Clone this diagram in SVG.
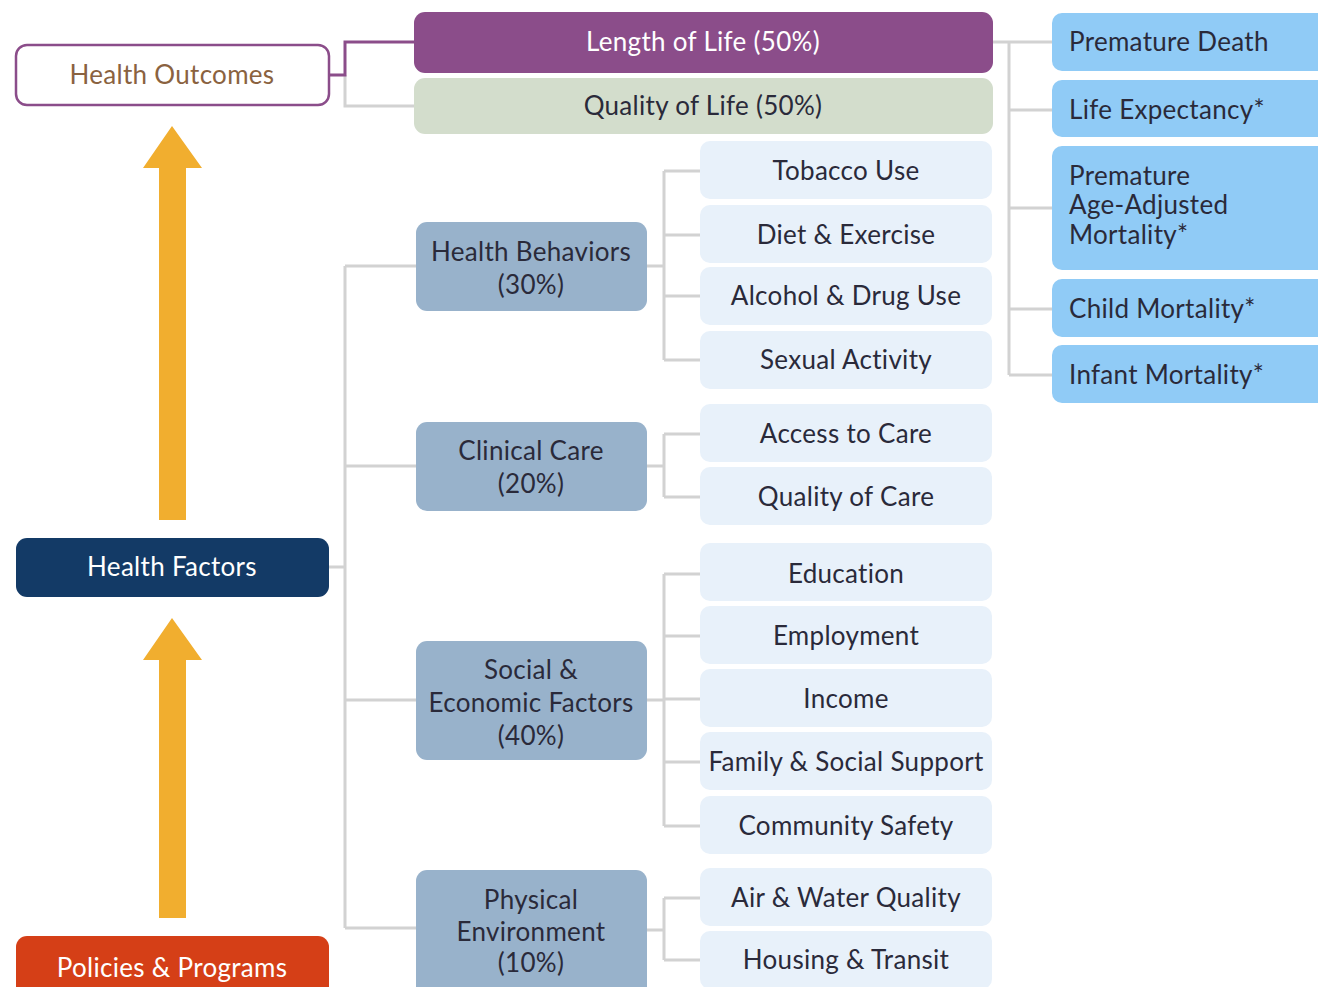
<svg xmlns="http://www.w3.org/2000/svg" width="1318" height="987" viewBox="0 0 1318 987">
  <style>
    text { font-family: Lato, "Open Sans", "Liberation Sans", sans-serif; font-size: 26px; letter-spacing: 0.3px; text-anchor: middle; dominant-baseline: central; fill: #2a2a3a; }
    .conn { fill: none; stroke: #d2d2d2; stroke-width: 3; }
    .outcome-link { fill: none; stroke: #8b4d8a; stroke-width: 3; }
    .leaf rect { fill: #e8f1fa; }
    .mid rect { fill: #98b2cb; }
    .measure rect { fill: #90cbf6; }
    .measure text { text-anchor: start; }
    .white { fill: #ffffff; }
    .arrow { fill: #f1ae2f; }
  </style>

  <!-- connectors -->
  <g id="connectors">
    <path class="conn" d="M345 75 V106 H414"/>
    <path class="outcome-link" d="M329 75 H345 V42 H414"/>
    <path class="conn" d="M993 42 H1009 V375 M1009 42 H1052 M1009 110 H1052 M1009 208 H1052 M1009 309 H1052 M1009 375 H1052"/>
    <path class="conn" d="M329 567 H345 M345 266 V928 M345 266 H416 M345 466 H416 M345 700 H416 M345 928 H416"/>
    <path class="conn" d="M647 266 H664 M664 171 V360 M664 171 H700 M664 235 H700 M664 296 H700 M664 360 H700"/>
    <path class="conn" d="M647 466 H664 M664 434 V497 M664 434 H700 M664 497 H700"/>
    <path class="conn" d="M647 700 H664 M664 574 V826 M664 574 H700 M664 636 H700 M664 699 H700 M664 762 H700 M664 826 H700"/>
    <path class="conn" d="M647 930 H664 M664 898 V960 M664 898 H700 M664 960 H700"/>
    <!-- upward arrows -->
    <path class="arrow" d="M172 126 L202 168 H186 V520 H159 V168 H143 Z"/>
    <path class="arrow" d="M172 618 L202 660 H186 V918 H159 V660 H143 Z"/>
  </g>

  <!-- left column -->
  <g id="health-outcomes">
    <rect x="16" y="45" width="313" height="60" rx="11" fill="#ffffff" stroke="#8b4d8a" stroke-width="2.5"/>
    <text x="172" y="74" style="fill:#8a6240">Health Outcomes</text>
  </g>
  <g id="health-factors">
    <rect x="16" y="538" width="313" height="59" rx="11" fill="#133a66"/>
    <text class="white" x="172" y="566">Health Factors</text>
  </g>
  <g id="policies-programs">
    <rect x="16" y="936" width="313" height="70" rx="11" fill="#d53f17"/>
    <text class="white" x="172" y="967">Policies &amp; Programs</text>
  </g>

  <!-- outcome categories -->
  <g id="length-of-life">
    <rect x="414" y="12" width="579" height="61" rx="11" fill="#8b4d8a"/>
    <text class="white" x="703" y="41">Length of Life (50%)</text>
  </g>
  <g id="quality-of-life">
    <rect x="414" y="78" width="579" height="56" rx="11" fill="#d3ddcc"/>
    <text x="703" y="105">Quality of Life (50%)</text>
  </g>

  <!-- outcome measures -->
  <g id="premature-death" class="measure">
    <rect x="1052" y="13" width="280" height="58" rx="10"/>
    <text x="1069" y="41">Premature Death</text>
  </g>
  <g id="life-expectancy" class="measure">
    <rect x="1052" y="80" width="280" height="57" rx="10"/>
    <text x="1069" y="109">Life Expectancy*</text>
  </g>
  <g id="premature-age-adjusted-mortality" class="measure">
    <rect x="1052" y="146" width="280" height="124" rx="10"/>
    <text x="1069" y="175">Premature</text>
    <text x="1069" y="204">Age-Adjusted</text>
    <text x="1069" y="234">Mortality*</text>
  </g>
  <g id="child-mortality" class="measure">
    <rect x="1052" y="279" width="280" height="58" rx="10"/>
    <text x="1069" y="308">Child Mortality*</text>
  </g>
  <g id="infant-mortality" class="measure">
    <rect x="1052" y="345" width="280" height="58" rx="10"/>
    <text x="1069" y="374">Infant Mortality*</text>
  </g>

  <!-- factor categories -->
  <g id="health-behaviors" class="mid">
    <rect x="416" y="222" width="231" height="89" rx="11"/>
    <text x="531" y="251">Health Behaviors</text>
    <text x="531" y="284">(30%)</text>
  </g>
  <g id="clinical-care" class="mid">
    <rect x="416" y="422" width="231" height="89" rx="11"/>
    <text x="531" y="450">Clinical Care</text>
    <text x="531" y="483">(20%)</text>
  </g>
  <g id="social-economic" class="mid">
    <rect x="416" y="641" width="231" height="119" rx="11"/>
    <text x="531" y="669">Social &amp;</text>
    <text x="531" y="702">Economic Factors</text>
    <text x="531" y="735">(40%)</text>
  </g>
  <g id="physical-environment" class="mid">
    <rect x="416" y="870" width="231" height="130" rx="11"/>
    <text x="531" y="899">Physical</text>
    <text x="531" y="931">Environment</text>
    <text x="531" y="962">(10%)</text>
  </g>

  <!-- factor items -->
  <g id="tobacco-use" class="leaf"><rect x="700" y="141" width="292" height="58" rx="10"/><text x="846" y="170">Tobacco Use</text></g>
  <g id="diet-exercise" class="leaf"><rect x="700" y="205" width="292" height="58" rx="10"/><text x="846" y="234">Diet &amp; Exercise</text></g>
  <g id="alcohol-drug-use" class="leaf"><rect x="700" y="267" width="292" height="58" rx="10"/><text x="846" y="295">Alcohol &amp; Drug Use</text></g>
  <g id="sexual-activity" class="leaf"><rect x="700" y="331" width="292" height="58" rx="10"/><text x="846" y="359">Sexual Activity</text></g>
  <g id="access-to-care" class="leaf"><rect x="700" y="404" width="292" height="58" rx="10"/><text x="846" y="433">Access to Care</text></g>
  <g id="quality-of-care" class="leaf"><rect x="700" y="467" width="292" height="58" rx="10"/><text x="846" y="496">Quality of Care</text></g>
  <g id="education" class="leaf"><rect x="700" y="543" width="292" height="58" rx="10"/><text x="846" y="573">Education</text></g>
  <g id="employment" class="leaf"><rect x="700" y="606" width="292" height="58" rx="10"/><text x="846" y="635">Employment</text></g>
  <g id="income" class="leaf"><rect x="700" y="669" width="292" height="58" rx="10"/><text x="846" y="698">Income</text></g>
  <g id="family-social-support" class="leaf"><rect x="700" y="732" width="292" height="58" rx="10"/><text x="846" y="761">Family &amp; Social Support</text></g>
  <g id="community-safety" class="leaf"><rect x="700" y="796" width="292" height="58" rx="10"/><text x="846" y="825">Community Safety</text></g>
  <g id="air-water-quality" class="leaf"><rect x="700" y="868" width="292" height="58" rx="10"/><text x="846" y="897">Air &amp; Water Quality</text></g>
  <g id="housing-transit" class="leaf"><rect x="700" y="931" width="292" height="58" rx="10"/><text x="846" y="959">Housing &amp; Transit</text></g>
</svg>
